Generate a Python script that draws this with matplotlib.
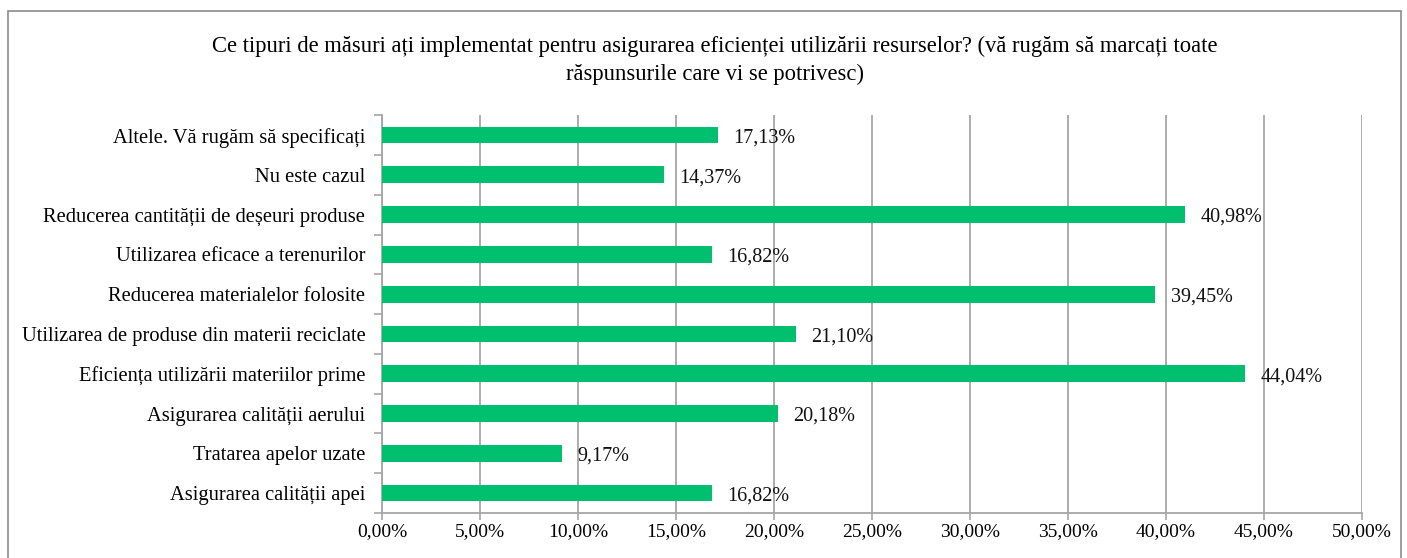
import matplotlib.pyplot as plt
from matplotlib.ticker import FuncFormatter, FixedLocator
from matplotlib.patches import Rectangle

categorii = [
    "Asigurarea calității apei",
    "Tratarea apelor uzate",
    "Asigurarea calității aerului",
    "Eficiența utilizării materiilor prime",
    "Utilizarea de produse din materii reciclate",
    "Reducerea materialelor folosite",
    "Utilizarea eficace a terenurilor",
    "Reducerea cantității de deșeuri produse",
    "Nu este cazul",
    "Altele. Vă rugăm să specificați",
]
procente = [16.82, 9.17, 20.18, 44.04, 21.10, 39.45, 16.82, 40.98, 14.37, 17.13]

titlu = ("Ce tipuri de măsuri ați implementat pentru asigurarea eficienței utilizării resurselor? "
         "(vă rugăm să marcați toate\nrăspunsurile care vi se potrivesc)")

plt.rcParams['font.family'] = ['Liberation Serif', 'DejaVu Serif']
verde = '#00BF6F'
gri = '#A6A6A6'

fig = plt.figure(figsize=(14.07, 5.58), dpi=100)
ax = fig.add_axes([0.2715, 0.0806, 0.6965, 0.713])

y = range(len(categorii))
ax.barh(y, procente, height=0.42, color=verde, zorder=3)
for i, v in enumerate(procente):
    ax.text(v + 0.8, i - 0.07, f"{v:.2f}%".replace('.', ','), va='center', ha='left',
            fontsize=14.5, color='#111111', zorder=4)

ax.set_xlim(0, 50)
ax.set_ylim(-0.5, len(categorii) - 0.5)
ax.set_xticks(range(0, 51, 5))
ax.xaxis.set_major_formatter(FuncFormatter(lambda x, p: f"{x:.2f}%".replace('.', ',')))
ax.set_yticks(list(y))
ax.set_yticklabels(categorii)
ax.yaxis.set_minor_locator(FixedLocator([i - 0.5 for i in range(len(categorii) + 1)]))
ax.tick_params(axis='y', which='major', length=0, pad=12, labelsize=14.8)
ax.tick_params(axis='y', which='minor', length=6, color=gri, width=1.2)
ax.tick_params(axis='x', length=5, color=gri, width=1.2, labelsize=14, pad=2.5)

ax.grid(axis='x', color=gri, linewidth=1.3, zorder=0)
for s in ['top', 'right']:
    ax.spines[s].set_visible(False)
for s in ['left', 'bottom']:
    ax.spines[s].set_color(gri)
    ax.spines[s].set_linewidth(1.3)

fig.text(0.508, 0.892, titlu, ha='center', va='center', fontsize=16.3, linespacing=1.45)

fig.patches.append(Rectangle((0.006, -0.01), 0.99, 0.99, transform=fig.transFigure,
                             fill=False, edgecolor='#8C8C8C', linewidth=1.2))

fig.savefig('out.png', dpi=100)
